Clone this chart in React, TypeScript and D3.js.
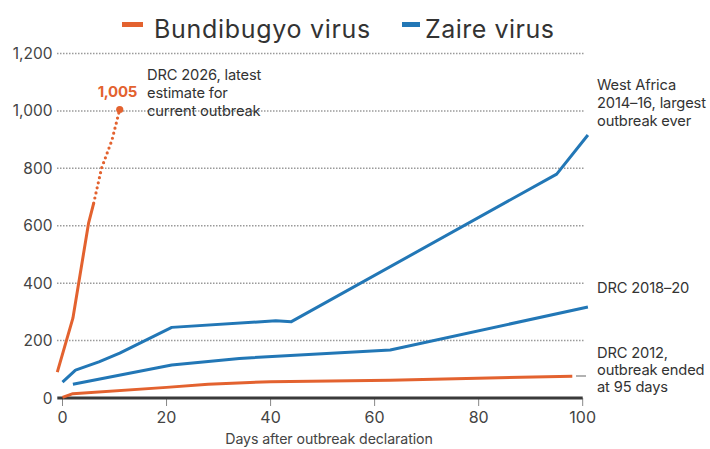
import React from 'react';
import * as d3 from 'd3';

const W = 710;
const H = 449;

// Bundibugyo virus, DRC 2026: reported (solid) and latest estimate (dotted)
const drc2026Days = [-1, 2, 5, 6];
const drc2026Cases = [90, 278, 608, 679];
const drc2026EstDays = [6, 7.5, 9.5, 11];
const drc2026EstCases = [679, 800, 898, 1005];

// Bundibugyo virus, DRC 2012
const drc2012Days = [0, 2, 20, 28, 40, 63, 98];
const drc2012Cases = [2, 15, 37, 48, 57, 62, 76];

// Zaire virus, West Africa 2014-16
const westAfricaDays = [0, 2.5, 7, 11, 21, 41, 44, 95, 101];
const westAfricaCases = [55, 97, 126, 156, 246, 269, 266, 780, 916];

// Zaire virus, DRC 2018-20
const drc2018Days = [2, 21, 34, 63, 101];
const drc2018Cases = [48, 115, 138, 167, 317];

const yTicks = [0, 200, 400, 600, 800, 1000, 1200];
const xTicks = [0, 20, 40, 60, 80, 100];

const ORANGE = '#e3622f';
const BLUE = '#2277b6';
const TEXT = '#333333';
const FONT = 'Inter, "Liberation Sans", Arial, sans-serif';

const zip = (xs: number[], ys: number[]) => xs.map((x, i) => [x, ys[i]] as [number, number]);

export default function App() {
  const x = d3.scaleLinear().domain([-1, 100]).range([57.3, 582.7]);
  const y = d3.scaleLinear().domain([0, 1200]).range([398, 53.5]);

  const line = d3
    .line<[number, number]>()
    .x(d => x(d[0]))
    .y(d => y(d[1]));

  const series = [
    { pts: zip(westAfricaDays, westAfricaCases), color: BLUE },
    { pts: zip(drc2018Days, drc2018Cases), color: BLUE },
    { pts: zip(drc2012Days, drc2012Cases), color: ORANGE },
    { pts: zip(drc2026Days, drc2026Cases), color: ORANGE },
  ];

  const est = zip(drc2026EstDays, drc2026EstCases);
  const last = est[est.length - 1];

  const label = { fontFamily: FONT, fontSize: 14.7, fill: TEXT, letterSpacing: -0.15 };

  return (
    <svg
      width={W}
      height={H}
      style={{ position: 'absolute', left: 0, top: 0, background: '#fff' }}
    >
      {/* legend */}
      <rect x={122} y={22} width={21} height={5} fill={ORANGE} />
      <text x={154} y={38} fontFamily={FONT} fontSize={25} fill={TEXT} letterSpacing={0.7}>
        Bundibugyo virus
      </text>
      <rect x={402} y={22} width={18} height={5} fill={BLUE} />
      <text x={425} y={38} fontFamily={FONT} fontSize={25} fill={TEXT} letterSpacing={0.5}>
        Zaire virus
      </text>

      {/* grid */}
      {yTicks.filter(t => t > 0).map(t => (
        <line
          key={t}
          x1={57}
          x2={585}
          y1={y(t)}
          y2={y(t)}
          stroke="#9a9a9a"
          strokeWidth={1.5}
          strokeDasharray="1.5 1.5"
        />
      ))}
      {yTicks.map(t => (
        <text
          key={t}
          x={52.5}
          y={y(t)}
          dy="0.36em"
          textAnchor="end"
          fontFamily={FONT}
          fontSize={15.5}
          fill="#444"
        >
          {d3.format(',')(t)}
        </text>
      ))}

      {/* x axis */}
      {xTicks.map(t => (
        <g key={t}>
          <line x1={x(t)} x2={x(t)} y1={398} y2={406} stroke="#888" strokeWidth={1} />
          <text
            x={x(t)}
            y={423}
            textAnchor="middle"
            fontFamily={FONT}
            fontSize={16}
            fill="#444"
          >
            {t}
          </text>
        </g>
      ))}
      <line x1={x(-1)} x2={x(100)} y1={398} y2={398} stroke="#3a3a3a" strokeWidth={3} />
      <text x={329} y={444} textAnchor="middle" fontFamily={FONT} fontSize={14.2} fill="#444" letterSpacing={-0.1}>
        Days after outbreak declaration
      </text>

      {/* lines */}
      {series.map((s, i) => (
        <path
          key={i}
          d={line(s.pts) || ''}
          fill="none"
          stroke={s.color}
          strokeWidth={3}
          strokeLinejoin="round"
        />
      ))}
      <path
        d={line(est) || ''}
        fill="none"
        stroke={ORANGE}
        strokeWidth={3.2}
        strokeLinecap="round"
        strokeDasharray="0 5.2"
      />
      <circle cx={x(last[0])} cy={y(last[1])} r={3.6} fill={ORANGE} />

      {/* annotations */}
      <text x={137} y={97} textAnchor="end" fontFamily={FONT} fontSize={15} fontWeight="bold" fill={ORANGE} letterSpacing={-0.3}>
        {d3.format(',')(last[1])}
      </text>
      <text {...label}>
        <tspan x={147} y={80}>DRC 2026, latest</tspan>
        <tspan x={147} y={98}>estimate for</tspan>
        <tspan x={147} y={116}>current outbreak</tspan>
      </text>
      <text {...label}>
        <tspan x={597} y={90}>West Africa</tspan>
        <tspan x={597} y={108}>2014–16, largest</tspan>
        <tspan x={597} y={125.5}>outbreak ever</tspan>
      </text>
      <text {...label} x={597} y={293}>
        DRC 2018–20
      </text>
      <line x1={576} x2={586} y1={376} y2={376} stroke="#999" strokeWidth={1.5} />
      <text {...label}>
        <tspan x={597} y={358}>DRC 2012,</tspan>
        <tspan x={597} y={375}>outbreak ended</tspan>
        <tspan x={597} y={392}>at 95 days</tspan>
      </text>
    </svg>
  );
}
